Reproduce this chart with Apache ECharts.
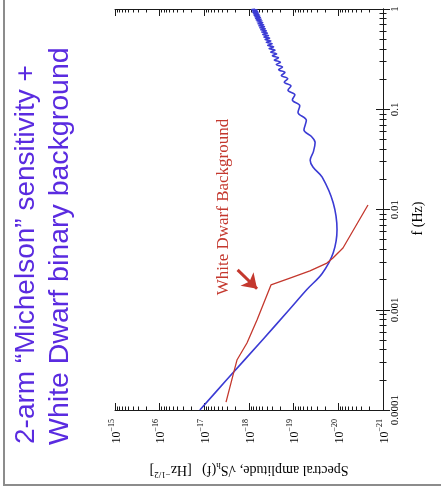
<!DOCTYPE html>
<html><head><meta charset="utf-8">
<script src="https://cdn.jsdelivr.net/npm/echarts@6/dist/echarts.min.js"></script>
<style>html,body{margin:0;padding:0;background:#fff}#c{width:441px;height:495px}</style>
</head><body><div id="c"></div>
<script>
// ---- data (chart is a slide rotated 90° counter-clockwise) ----
const titleLines = ['2-arm \u201cMichelson\u201d sensitivity +', 'White Dwarf binary background'];
const annotationText = 'White Dwarf Background';
const freqTicks = [0.0001, 0.001, 0.01, 0.1, 1];
const freqTickLabels = ['0.0001', '0.001', '0.01', '0.1', '1'];
const ampTicks = [1e-21, 1e-20, 1e-19, 1e-18, 1e-17, 1e-16, 1e-15];
const ampTickExponents = ['\u221221', '\u221220', '\u221219', '\u221218', '\u221217', '\u221216', '\u221215'];
const freqAxisName = 'f (Hz)';

// Michelson sensitivity (blue)
const blueFreq = [0.0001, 0.0002, 0.0005, 0.001, 0.0016, 0.0023, 0.0037, 0.0063, 0.0116, 0.021,
  0.0265, 0.031, 0.038, 0.0465, 0.054, 0.062, 0.0775, 0.093, 0.1085, 0.124, 0.1395, 0.155, 0.1705,
  0.186, 0.2015, 0.217, 0.2325, 0.248, 0.2635, 0.279, 0.2945, 0.31, 0.3255, 0.341, 0.3565, 0.372,
  0.3875, 0.403, 0.4185, 0.434, 0.4495, 0.465, 0.4805, 0.496, 0.5115, 0.527, 0.5425, 0.558, 0.5735,
  0.589, 0.6045, 0.62, 0.6355, 0.651, 0.6665, 0.682, 0.6975, 0.713, 0.7285, 0.744, 0.7595, 0.775,
  0.7905, 0.806, 0.8215, 0.837, 0.8525, 0.868, 0.8835, 0.899, 0.9145, 0.93, 0.9455, 0.961, 0.9765,
  0.992, 1.0];
const blueAmp = [1.26e-17, 3.16e-18, 5.0e-19, 1.26e-19, 5.0e-20, 2.3e-20, 1.3e-20, 1.07e-20, 1.3e-20, 2.3e-20,
  3.7e-20, 4.27e-20, 3.6e-20, 3.31e-20, 4.1e-20, 5.89e-20, 5.2e-20, 8.0e-20, 7.3e-20, 1.07e-19, 9.4e-20, 1.34e-19, 1.15e-19,
  1.62e-19, 1.36e-19, 1.89e-19, 1.57e-19, 2.17e-19, 1.78e-19, 2.45e-19, 1.98e-19, 2.72e-19, 2.19e-19, 3.0e-19, 2.40e-19, 3.27e-19,
  2.61e-19, 3.55e-19, 2.82e-19, 3.82e-19, 3.03e-19, 4.10e-19, 3.24e-19, 4.37e-19, 3.45e-19, 4.65e-19, 3.66e-19, 4.92e-19, 3.87e-19,
  5.20e-19, 4.08e-19, 5.47e-19, 4.29e-19, 5.75e-19, 4.50e-19, 6.02e-19, 4.71e-19, 6.30e-19, 4.92e-19, 6.57e-19, 5.13e-19, 6.85e-19,
  5.34e-19, 7.12e-19, 5.55e-19, 7.40e-19, 5.76e-19, 7.67e-19, 5.97e-19, 7.95e-19, 6.18e-19, 8.22e-19, 6.39e-19, 8.50e-19, 6.60e-19,
  8.77e-19, 7.3e-19];

// White dwarf background (red)
const redFreq = [1.2e-4, 2.23e-4, 3.15e-4, 4.66e-4, 7.9e-4, 1.77e-3, 2.07e-3, 2.44e-3, 2.92e-3, 3.28e-3, 4.13e-3, 1.11e-2];
const redAmp = [3.27e-18, 2.28e-18, 1.86e-18, 1.11e-18, 6.62e-19, 3.22e-19, 1.21e-19, 4.32e-20, 1.80e-20, 1.32e-20, 7.87e-21, 2.17e-21];

// annotation arrow (start, tip)
const arrowFreq = [2.5e-3, 1.62e-3];
const arrowAmp = [1.8e-18, 6.6e-19];

// ---- styling ----
const serif = '"Liberation Serif", "Times New Roman", serif';
const sans = '"Liberation Sans", Arial, sans-serif';
const frameColor = '#1a1a1a';
const blue = '#3b3bd4';
const red = '#c4382e';
const titleColor = '#5a2be0';

function minorOf(majors) {
  const out = [];
  for (let i = 0; i < majors.length - 1; i++) for (let k = 2; k <= 9; k++) out.push(majors[i] * k);
  return out;
}
const ampMinor = minorOf(ampTicks);
const freqMinor = minorOf(freqTicks);

function ampLabel(v) {
  const e = Math.round(Math.log10(v));
  const i = ampTicks.findIndex(t => Math.round(Math.log10(t)) === e);
  return i < 0 ? '' : '{b|10}{s|' + ampTickExponents[i] + '}';
}
function freqLabel(v) {
  const e = Math.round(Math.log10(v));
  const i = freqTicks.findIndex(t => Math.round(Math.log10(t)) === e);
  return i < 0 ? '' : freqTickLabels[i];
}

function xAx(pos, major, labels) {
  const o = {
    type: 'log', logBase: 10, min: 1e-21, max: 1e-15, inverse: true, position: pos,
    splitLine: { show: false },
    axisLine: { show: major, lineStyle: { color: frameColor, width: 1 } },
    axisTick: { show: true, inside: true, length: major ? 7 : 3.5, customValues: major ? ampTicks : ampMinor,
      lineStyle: { color: frameColor, width: 1 } },
    axisLabel: { show: false }
  };
  if (labels) {
    o.axisLabel = {
      show: true, customValues: ampTicks, rotate: 90, margin: 9, formatter: ampLabel,
      rich: {
        b: { fontFamily: serif, fontSize: 12, color: '#000', lineHeight: 15, verticalAlign: 'bottom' },
        s: { fontFamily: serif, fontSize: 8, color: '#000', lineHeight: 15, verticalAlign: 'top' }
      }
    };
    o.name = 'Spectral amplitude, \u221a{n|S}{sub|h}{n|(f)}   [Hz{sup|\u22121/2}]';
    o.nameLocation = 'middle';
    o.nameRotate = 180;
    o.nameGap = 51;
    o.nameTextStyle = {
      fontFamily: serif, fontSize: 14, color: '#000',
      rich: {
        n: { fontFamily: serif, fontSize: 14, color: '#000', lineHeight: 18, verticalAlign: 'middle' },
        sub: { fontFamily: serif, fontSize: 9, color: '#000', lineHeight: 18, verticalAlign: 'bottom' },
        sup: { fontFamily: serif, fontSize: 9, color: '#000', lineHeight: 18, verticalAlign: 'top' }
      }
    };
  }
  return o;
}
function yAx(pos, major, labels) {
  const o = {
    type: 'log', logBase: 10, min: 1e-4, max: 1, position: pos,
    splitLine: { show: false },
    axisLine: { show: major, lineStyle: { color: frameColor, width: 1 } },
    axisTick: { show: true, inside: true, length: major ? 7 : 3.5, customValues: major ? freqTicks : freqMinor,
      lineStyle: { color: frameColor, width: 1 } },
    axisLabel: { show: false }
  };
  if (labels) {
    o.axisLabel = { show: true, customValues: freqTicks, rotate: 90, margin: 7, formatter: freqLabel,
      fontFamily: serif, fontSize: 11, color: '#000' };
    o.name = freqAxisName;
    o.nameLocation = 'middle';
    o.nameRotate = 90;
    o.nameGap = 28;
    o.nameTextStyle = { fontFamily: serif, fontSize: 14, color: '#000', padding: [0, 18, 0, 0] };
  }
  return o;
}

const chart = echarts.init(document.getElementById('c'), null, { renderer: 'canvas' });
chart.setOption({
  backgroundColor: '#fff',
  animation: false,
  grid: { left: 115, right: 58, top: 9, bottom: 85, containLabel: false },
  xAxis: [xAx('bottom', true, true), xAx('bottom', false, false), xAx('top', true, false), xAx('top', false, false)],
  yAxis: [yAx('right', true, true), yAx('right', false, false), yAx('left', true, false), yAx('left', false, false)],
  series: [
    {
      name: 'Michelson sensitivity', type: 'line', xAxisIndex: 0, yAxisIndex: 0,
      data: blueFreq.map((f, i) => [blueAmp[i], f]),
      smooth: 0.35, symbol: 'none', silent: true,
      lineStyle: { color: blue, width: 1.6 }
    },
    {
      name: 'White Dwarf Background', type: 'line', xAxisIndex: 0, yAxisIndex: 0,
      data: redFreq.map((f, i) => [redAmp[i], f]),
      smooth: false, symbol: 'none', silent: true,
      lineStyle: { color: red, width: 1.3 },
      markLine: {
        silent: true, symbol: ['none', 'arrow'], symbolSize: 14,
        label: { show: false },
        lineStyle: { color: red, width: 3, type: 'solid' },
        emphasis: { disabled: true },
        data: [[{ coord: [arrowAmp[0], arrowFreq[0]] }, { coord: [arrowAmp[1], arrowFreq[1]] }]]
      }
    }
  ],
  graphic: [
    { type: 'rect', silent: true, shape: { x: 4, y: -10, width: 460, height: 495 },
      style: { fill: 'none', stroke: '#8c8c8c', lineWidth: 2 } },
    { type: 'text', x: 40, y: 444, rotation: Math.PI / 2, silent: true,
      style: { text: titleLines[0], fill: titleColor, font: '28px ' + sans, align: 'left', verticalAlign: 'bottom' } },
    { type: 'text', x: 75, y: 445, rotation: Math.PI / 2, silent: true,
      style: { text: titleLines[1], fill: titleColor, font: '28.5px ' + sans, align: 'left', verticalAlign: 'bottom' } },
    { type: 'text', x: 224, y: 207, rotation: Math.PI / 2, silent: true,
      style: { text: annotationText, fill: red, font: '17px ' + serif, align: 'center', verticalAlign: 'middle' } }
  ]
});
</script>
</body></html>
